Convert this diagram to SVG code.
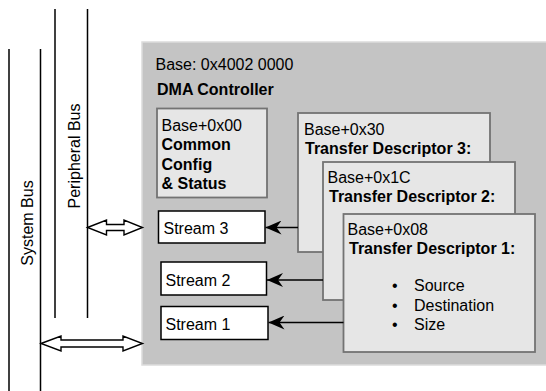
<svg xmlns="http://www.w3.org/2000/svg" width="546" height="391" viewBox="0 0 546 391">
<style>
text{font-family:"Liberation Sans",Arial,sans-serif;font-size:16px;fill:#000}
.b{font-weight:bold}
.bus{stroke:#000;stroke-width:1.5;fill:none}
.reg{fill:#e6e6e6;stroke:#737373;stroke-width:1.8}
.stream{fill:#fff;stroke:#000;stroke-width:1.5}
.conn{stroke:#000;stroke-width:1.5;fill:none}
.dbl{fill:#fff;stroke:#000;stroke-width:1.4;stroke-linejoin:miter}
</style>
<defs>
<marker id="ah" markerUnits="userSpaceOnUse" markerWidth="16" markerHeight="14" viewBox="0 0 16 14" refX="16" refY="7" orient="auto">
<path d="M0,0 L16,7 L0,14 L5,7 z" fill="#000"/>
</marker>
</defs>
<g id="system-bus">
<line class="bus" x1="9" y1="49" x2="9" y2="391"/>
<line class="bus" x1="40.5" y1="49" x2="40.5" y2="391"/>
<text transform="translate(32.5,223) rotate(-90)" text-anchor="middle">System Bus</text>
</g>
<g id="peripheral-bus">
<line class="bus" x1="55" y1="9" x2="55" y2="318"/>
<line class="bus" x1="87.5" y1="9" x2="87.5" y2="318"/>
<text transform="translate(79.5,156) rotate(-90)" text-anchor="middle">Peripheral Bus</text>
</g>
<g id="dma-controller">
<rect x="142" y="42" width="406" height="323" fill="#c4c4c4" stroke="#dcdcdc" stroke-width="1.5"/>
<text x="155.5" y="70">Base: 0x4002 0000</text>
<text class="b" x="157" y="95">DMA Controller</text>
</g>
<g id="common-config">
<rect class="reg" x="157" y="108.5" width="110" height="89"/>
<text x="161.5" y="130.5">Base+0x00</text>
<text class="b" x="161.5" y="150">Common</text>
<text class="b" x="161.5" y="169.5">Config</text>
<text class="b" x="161.5" y="189">&amp; Status</text>
</g>
<g id="descriptor-3">
<rect class="reg" x="298" y="113" width="192" height="139"/>
<text x="304" y="135">Base+0x30</text>
<text class="b" x="305" y="153.5">Transfer Descriptor 3:</text>
</g>
<g id="descriptor-2">
<rect class="reg" x="323" y="162" width="192" height="138"/>
<text x="327.5" y="182.5">Base+0x1C</text>
<text class="b" x="329" y="201.5">Transfer Descriptor 2:</text>
</g>
<g id="descriptor-1">
<rect class="reg" x="343.5" y="214" width="191.5" height="138"/>
<text x="347.5" y="235">Base+0x08</text>
<text class="b" x="349" y="253.5">Transfer Descriptor 1:</text>
<text x="392" y="290.5">•</text>
<text x="414" y="290.5">Source</text>
<text x="392" y="310.5">•</text>
<text x="414" y="310.5">Destination</text>
<text x="392" y="330">•</text>
<text x="414" y="330">Size</text>
</g>
<g id="stream-3">
<rect class="stream" x="158.5" y="211" width="106.5" height="32"/>
<text x="163.5" y="234">Stream 3</text>
</g>
<g id="stream-2">
<rect class="stream" x="161" y="262" width="105.5" height="33"/>
<text x="165.5" y="285.5">Stream 2</text>
</g>
<g id="stream-1">
<rect class="stream" x="161" y="306.5" width="107" height="33"/>
<text x="165.5" y="330">Stream 1</text>
</g>
<g id="connectors">
<line class="conn" x1="298" y1="227.5" x2="265.5" y2="227.5" marker-end="url(#ah)"/>
<line class="conn" x1="323" y1="280" x2="267" y2="280" marker-end="url(#ah)"/>
<line class="conn" x1="343.5" y1="322.5" x2="268.5" y2="322.5" marker-end="url(#ah)"/>
<polygon class="dbl" points="87.5,227.5 106.5,220 106.5,224.5 124,224.5 124,220 142.5,227.5 124,235 124,230.5 106.5,230.5 106.5,235"/>
<polygon class="dbl" points="41,343.5 61,336 61,340 123,340 123,336 142.5,343.5 123,351 123,347 61,347 61,351"/>
</g>
</svg>
